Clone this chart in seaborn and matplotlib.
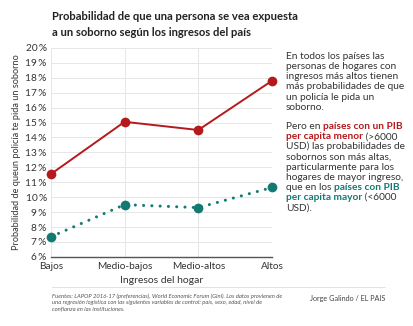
import matplotlib
matplotlib.use("Agg")
import matplotlib.pyplot as plt
import seaborn as sns
import pandas as pd
from matplotlib.lines import Line2D

categories = ["Bajos", "Medio-bajos", "Medio-altos", "Altos"]
pib_menor = [11.55, 15.05, 14.5, 17.8]
pib_mayor = [7.35, 9.5, 9.3, 10.65]
yticks = list(range(6, 21))

RED = "#b5191c"
TEAL = "#137a73"

sns.set_theme(style="white")
plt.rcParams["font.family"] = ["Lato", "DejaVu Sans"]

df = pd.DataFrame({
    "cat": categories * 2,
    "x": list(range(len(categories))) * 2,
    "val": pib_menor + pib_mayor,
    "grupo": ["menor"] * 4 + ["mayor"] * 4,
})

fig = plt.figure(figsize=(4.14, 3.26), dpi=100)
ax = fig.add_axes([0.123, 0.212, 0.534, 0.641])

sub_r = df[df.grupo == "menor"]
sub_t = df[df.grupo == "mayor"]
sns.lineplot(data=sub_r, x="x", y="val", ax=ax, color=RED, lw=1.4, marker="o",
             markersize=7, markeredgewidth=0, legend=False, zorder=3)
sns.lineplot(data=sub_t, x="x", y="val", ax=ax, color=TEAL, lw=2.2, marker="o",
             markersize=7, markeredgewidth=0, legend=False, zorder=3,
             linestyle=(0, (0.01, 2.7)), dash_capstyle="round")
for ln in ax.lines:
    ln.set_dash_capstyle("round")
    ln.set_clip_on(False)

ax.set_xlim(0, 3)
ax.set_ylim(6, 20)
ax.set_yticks(yticks)
ax.set_yticklabels([f"{v}\u2009%" for v in yticks], fontsize=7.3, color="#333333")
ax.set_xticks(range(len(categories)))
ax.set_xticklabels(categories, fontsize=7.3, color="#333333")
ax.tick_params(axis="y", length=0, pad=3)
ax.tick_params(axis="x", length=0, pad=4)
ax.grid(True, color="#e6e6e6", lw=0.7)
ax.set_axisbelow(True)
for s in ["top", "right", "left"]:
    ax.spines[s].set_visible(False)
ax.spines["bottom"].set_color("#555555")
ax.spines["bottom"].set_linewidth(1.0)
ax.set_xlabel("Ingresos del hogar", fontsize=7.5, color="#333333", labelpad=3)
ax.set_ylabel("Probabilidad de queun policía te pida un soborno", fontsize=6.6,
              color="#333333", labelpad=3)

# Title
fig.text(0.126, 1 - 20.5 / 326, "Probabilidad de que una persona se vea expuesta",
         fontsize=8.1, fontweight="bold", color="#222222", va="baseline")
fig.text(0.126, 1 - 36.5 / 326, "a un soborno según los ingresos del país",
         fontsize=8.1, fontweight="bold", color="#222222", va="baseline")

# Right annotation
x0 = 286 / 414
lh = 10.15 / 326
fs = 7.3
tc = "#333333"
y = 1 - 59 / 326
para1 = ["En todos los países las", "personas de hogares con",
         "ingresos más altos tienen", "más probabilidades de que",
         "un policía le pida un", "soborno."]
for line in para1:
    fig.text(x0, y, line, fontsize=fs, color=tc, va="baseline")
    y -= lh
y = 1 - 129 / 326

para2 = [
    [("Pero en ", tc, "normal"), ("países con un PIB", RED, "bold")],
    [("per capita menor", RED, "bold"), (" (>6000", tc, "normal")],
    [("USD) las probabilidades de", tc, "normal")],
    [("sobornos son más altas,", tc, "normal")],
    [("particularmente para los", tc, "normal")],
    [("hogares de mayor ingreso,", tc, "normal")],
    [("que en los ", tc, "normal"), ("países con PIB", TEAL, "bold")],
    [("per capita mayor", TEAL, "bold"), (" (<6000", tc, "normal")],
    [("USD).", tc, "normal")],
]
pending = []
for segs in para2:
    prev = None
    for txt, col, wt in segs:
        t = fig.text(x0, y, txt, fontsize=fs, color=col, fontweight=wt,
                     va="baseline", ha="left")
        if prev is not None:
            pending.append((prev, t))
        prev = t
    y -= lh

fig.canvas.draw()
renderer = fig.canvas.get_renderer()
for p, t in pending:
    bb = p.get_window_extent(renderer).transformed(fig.transFigure.inverted())
    t.set_position((bb.x1, p.get_position()[1]))
    fig.canvas.draw()

# separator and footer
fig.add_artist(Line2D([0.126, 0.93], [1 - 287 / 326, 1 - 287 / 326],
                      transform=fig.transFigure, color="#dddddd", lw=0.6))
fig.text(0.126, 1 - 293.5 / 326,
         "Fuentes: LAPOP 2016-17 (preferencias), World Economic Forum (Gini). Los datos provienen de\n"
         "una regresión logística con las siguientes variables de control: país, sexo, edad, nivel de\n"
         "confianza en las instituciones.",
         fontsize=4.25, style="italic", color="#555555", va="top", linespacing=1.3)
fig.text(0.93, 1 - 301 / 326, "Jorge Galindo / EL PAIS", fontsize=5.2,
         color="#444444", ha="right", va="baseline")

fig.savefig("out.png", dpi=100, facecolor="white")
